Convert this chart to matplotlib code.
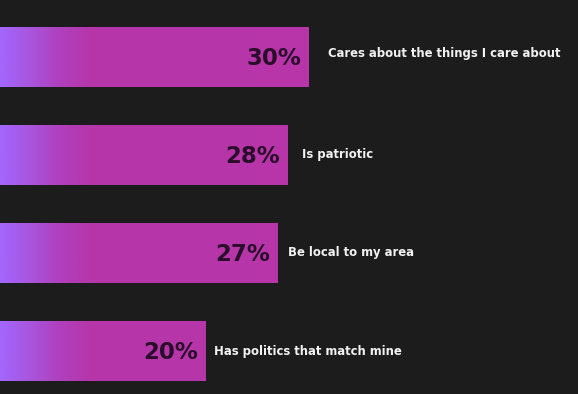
import numpy as np
import matplotlib
matplotlib.use("Agg")
import matplotlib.pyplot as plt
from matplotlib.colors import LinearSegmentedColormap
from matplotlib.patches import Rectangle

categories = ["Cares about the things I care about", "Is patriotic",
              "Be local to my area", "Has politics that match mine"]
values = [30, 28, 27, 20]
value_labels = ["30%", "28%", "27%", "20%"]

# layout: gap (in px) between bar end and the category label
label_gap_px = [20, 14, 11, 9]
label_dy = [-0.04, -0.01, -0.01, 0.01]

BG = "#1c1c1c"
fig = plt.figure(figsize=(5.78, 3.94), dpi=100, facecolor=BG)
ax = fig.add_axes([0, 0, 1, 1])
ax.set_facecolor(BG)
px_per_unit = 10.27
xmax = 578 / px_per_unit
ax.set_xlim(0, xmax)
ax.set_ylim(337 / 98, -57 / 98)
ax.axis("off")

cmap = LinearSegmentedColormap.from_list(
    "g", [(0, "#a266fc"), (0.05, "#a955de"), (0.1, "#b040bf"), (0.15, "#b637ab"), (1, "#b934a6")])
grad = np.linspace(0, 1, 512)[None, :]
bar_h = 0.615
for i, (v, lab, cat) in enumerate(zip(values, value_labels, categories)):
    rect = Rectangle((0, i - bar_h / 2), v, bar_h, facecolor="none", edgecolor="none")
    ax.add_patch(rect)
    im = ax.imshow(grad, cmap=cmap, aspect="auto",
                   extent=[0, xmax, i + bar_h / 2, i - bar_h / 2], zorder=1)
    im.set_clip_path(rect)
    ax.text(v - 0.7, i + 0.02, lab, ha="right", va="center", fontsize=16.5,
            fontweight="bold", family=["DejaVu Sans"],
            color="#2a0d2a", zorder=3)
    ax.text(v + label_gap_px[i] / px_per_unit, i + label_dy[i], cat,
            ha="left", va="center", fontsize=8.4,
            fontweight="bold", family=["DejaVu Sans"],
            color="#f2f2f2", zorder=3)

ax.set_xlim(0, xmax)
ax.set_ylim(337 / 98, -57 / 98)
fig.savefig("out.png", dpi=100, facecolor=BG)
